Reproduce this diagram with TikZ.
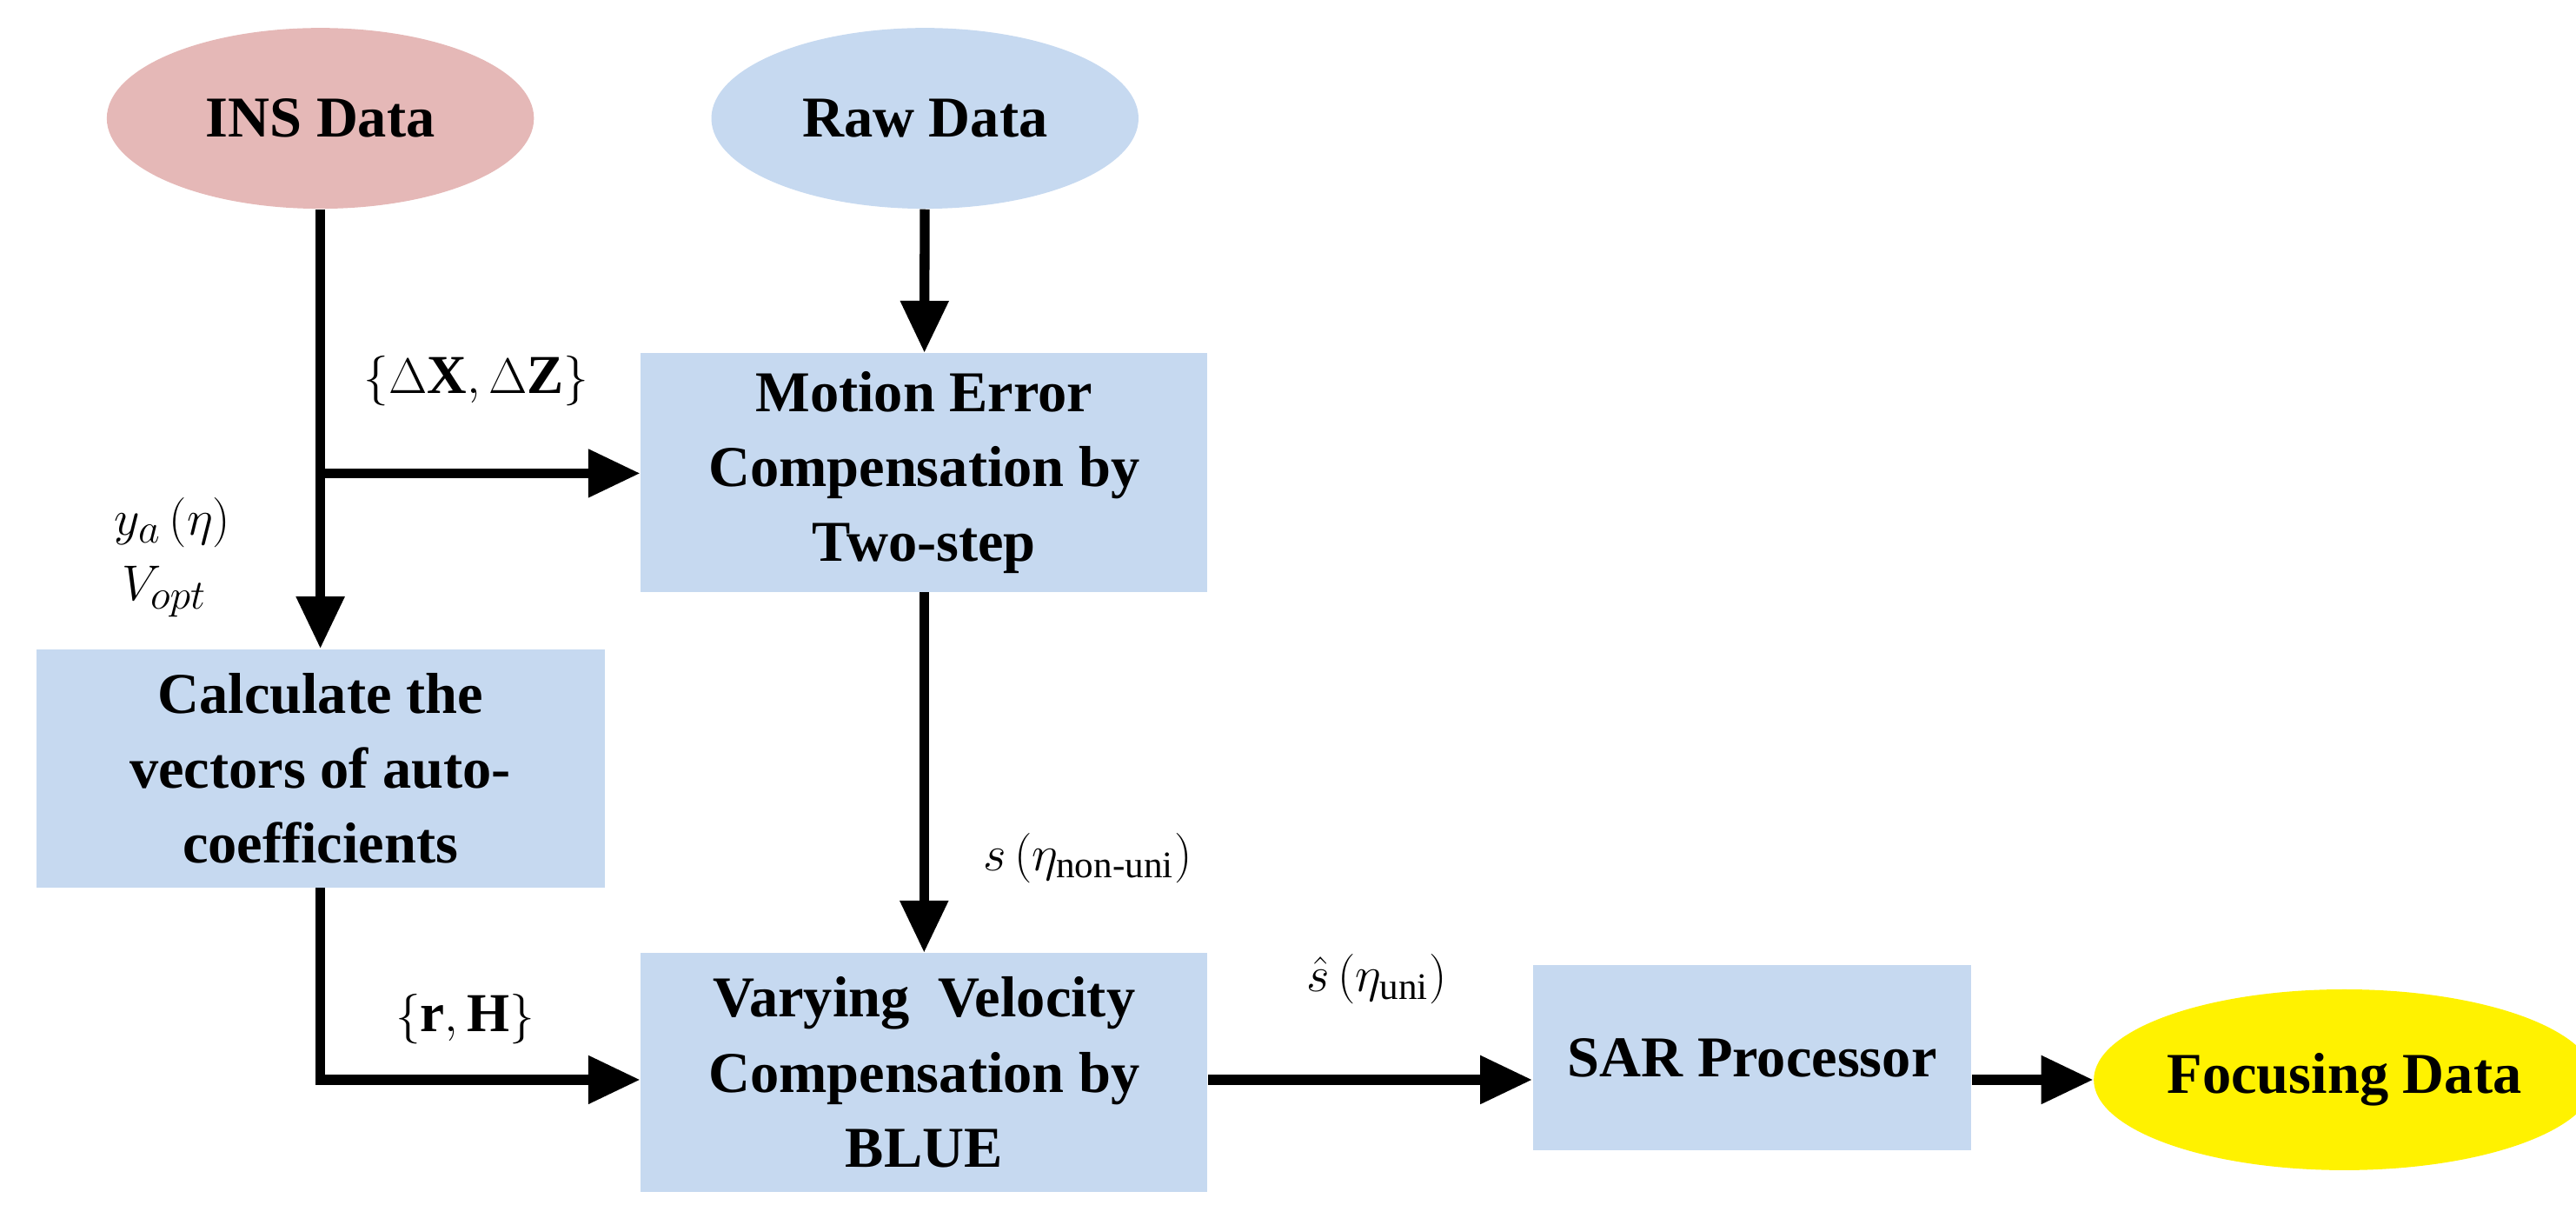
\documentclass[tikz,border=0pt]{standalone}
\usepackage{fontspec}
\setmainfont{Liberation Serif}
\usetikzlibrary{shapes.geometric,arrows.meta}
\definecolor{pink}{RGB}{229,184,183}
\definecolor{lblue}{RGB}{198,217,240}
\newcommand{\subtx}[1]{\mbox{\fontsize{13}{13}\selectfont #1}}
\begin{document}
\begin{tikzpicture}[x=0.02cm,y=-0.02cm,
 box/.style={fill=lblue,draw=none,align=center,font=\fontsize{20}{26}\selectfont\bfseries,inner sep=0},
 ell/.style={ellipse,draw=none,inner sep=0,font=\fontsize{20}{26}\selectfont\bfseries,minimum width=260*0.02cm,minimum height=110*0.02cm},
 ar/.style={line width=3.4pt,-{Triangle[length=18pt,width=16pt]}},
 lab/.style={font=\fontsize{19}{23}\selectfont}]
\useasboundingbox (0,0) rectangle (1568,745);
\node[ell,fill=pink] (ins) at (195,72) {INS Data};
\node[ell,fill=lblue] (raw) at (563,72) {Raw Data};
\node[ell,fill=yellow,minimum width=276*0.02cm] (foc) at (1427,657) {Focusing Data};
\node[box,minimum width=345*0.02cm,minimum height=145*0.02cm] (mot) at (562.5,287.5) {Motion Error\\Compensation by\\Two-step};
\node[box,minimum width=346*0.02cm,minimum height=145*0.02cm] (cal) at (195,467.5) {Calculate the\\vectors of auto-\\coefficients};
\node[box,minimum width=345*0.02cm,minimum height=145*0.02cm] (var) at (562.5,652.5) {Varying\ \ Velocity\\Compensation by\\BLUE};
\node[box,minimum width=267*0.02cm,minimum height=113*0.02cm] (sar) at (1066.5,643.5) {SAR Processor};
\coordinate (br) at (195,288);
\coordinate (cr) at (195,657);
\draw[ar] (ins) -- (cal);
\draw[ar] (br) -- (br -| mot.west);
\draw[ar] (raw) -- (mot);
\draw[ar] (mot) -- (var);
\draw[ar] (cal.south) -- (cr) -- (cr -| var.west);
\draw[ar] (var.east |- cr) -- (cr -| sar.west);
\draw[ar] (sar.east |- cr) -- (foc.west);
\node[lab] (l1) at (290,232) {$\{\Delta\mathbf{X},\Delta\mathbf{Z}\}$};
\node[lab] (l2) at (105,318) {$y_a\left(\eta\right)$};
\node[lab] (l3) at (100,360) {$V_{opt}$};
\node[lab] (l4) at (662,522) {$s\left(\eta_{\subtx{non-uni}}\right)$};
\node[lab] (l5) at (283,620) {$\{\mathbf{r},\mathbf{H}\}$};
\node[lab] (l6) at (838,596) {$\hat{s}\left(\eta_{\subtx{uni}}\right)$};
\end{tikzpicture}
\end{document}
